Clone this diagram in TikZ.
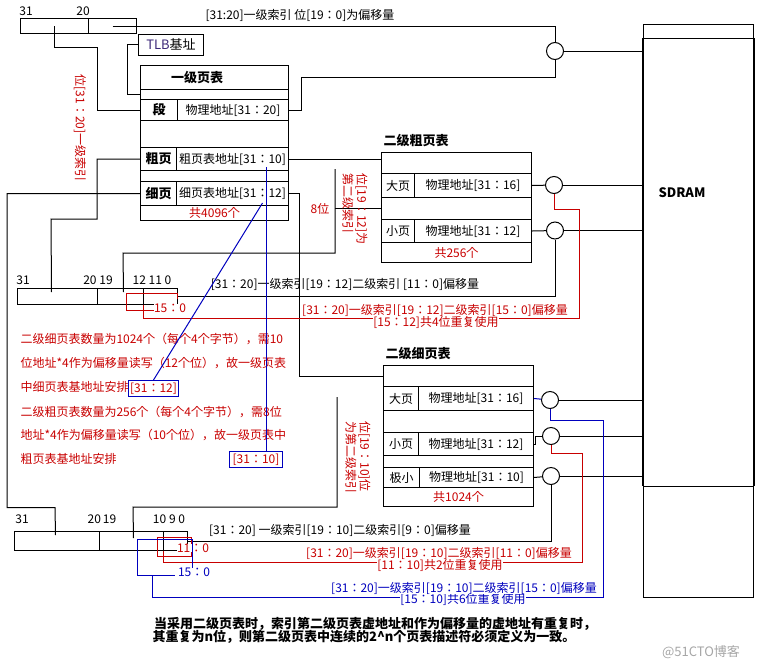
\documentclass[tikz,border=0pt]{standalone}
\usepackage{fontspec}
\setmainfont{Noto Sans CJK JP}
\usetikzlibrary{calc}
\definecolor{idxred}{RGB}{200,0,0}
\definecolor{idxblue}{RGB}{0,0,190}
\definecolor{tlbcol}{RGB}{60,40,120}

\begin{document}
\begin{tikzpicture}[x=1pt,y=-1pt,line width=1pt,
        font=\fontsize{12}{14}\selectfont,
        cell/.style={draw,inner sep=0pt,anchor=north west},
        tap/.style={draw,circle,minimum size=17pt,inner sep=0pt},
        hd/.style={font=\fontsize{13}{15}\selectfont\bfseries},
        rtxt/.style={text=idxred,fill=white,inner sep=0pt},
        btxt/.style={text=idxblue,fill=white,inner sep=0pt},
        memo/.style={text=idxred,anchor=west,inner sep=0pt},
        idxbox/.style={draw=idxblue,text=idxred,inner sep=1pt,minimum height=16pt,anchor=north west}]
            \useasboundingbox (0,0) rectangle (760,670);

            \node[cell,minimum width=68pt,minimum height=15pt] (a1hi) at (20, 18) {};
            \node[cell,minimum width=48pt,minimum height=15pt] (a1lo) at (88, 18) {};
            \node (a1n31) at (26, 11) { 31 };
            \node (a1n20) at (83, 11) { 20 };
            \node (a1txt) at (300, 15) { [31:20]一级索引 位[19：0]为偏移量 };

            \node[draw,minimum width=65pt,minimum height=21pt,inner sep=0pt,font=\fontsize{13}{15}\selectfont] (tlb) at (171, 44.5) { \textcolor{tlbcol}{TLB}基址 };

            \node[cell,minimum width=148pt,minimum height=24pt] (t1top) at (140, 65) {};
            \node[hd] (t1name) at (197, 78) { 一级页表 };
            \node[cell,minimum width=148pt,minimum height=10pt] (t1gapa) at (140, 89) {};
            \node[cell,hd,minimum width=37pt,minimum height=21pt] (seg) at (140, 99) { 段 };
            \node[cell,minimum width=111pt,minimum height=21pt] (segpa) at (177, 99) { 物理地址[31：20] };
            \node[cell,minimum width=148pt,minimum height=27pt] (t1gapb) at (140, 120) {};
            \node[cell,hd,minimum width=36pt,minimum height=23pt] (cu) at (140, 147) { 粗页 };
            \node[cell,minimum width=112pt,minimum height=23pt] (cupa) at (176, 147) { 粗页表地址[31：10] };
            \node[cell,minimum width=148pt,minimum height=11pt] (t1gapc) at (140, 170) {};
            \node[cell,hd,minimum width=36pt,minimum height=24pt] (xi) at (140, 181) { 细页 };
            \node[cell,minimum width=112pt,minimum height=24pt] (xipa) at (176, 181) { 细页表地址[31：12] };
            \node[cell,text=idxred,minimum width=148pt,minimum height=15pt] (t1sum) at (140, 205) { 共4096个 };

            \node[hd,anchor=west,inner sep=0pt] (s1name) at (383, 141) { 二级粗页表 };
            \node[cell,minimum width=150pt,minimum height=21pt] (s1top) at (381, 152) {};
            \node[cell,minimum width=33pt,minimum height=24pt] (s1bigk) at (381, 173) { 大页 };
            \node[cell,minimum width=117pt,minimum height=24pt] (s1big) at (414, 173) { 物理地址[31：16] };
            \node[cell,minimum width=150pt,minimum height=22pt] (s1gap) at (381, 197) {};
            \node[cell,minimum width=33pt,minimum height=23pt] (s1smk) at (381, 219) { 小页 };
            \node[cell,minimum width=117pt,minimum height=23pt] (s1sm) at (414, 219) { 物理地址[31：12] };
            \node[cell,text=idxred,minimum width=150pt,minimum height=20pt] (s1sum) at (381, 242) { 共256个 };

            \node[hd,anchor=west,inner sep=0pt] (t2name) at (385, 354) { 二级细页表 };
            \node[cell,minimum width=150pt,minimum height=21pt] (t2top) at (383, 365) {};
            \node[cell,minimum width=35pt,minimum height=24pt] (t2bigk) at (383, 386) { 大页 };
            \node[cell,minimum width=115pt,minimum height=24pt] (t2big) at (418, 386) { 物理地址[31：16] };
            \node[cell,minimum width=150pt,minimum height=22pt] (t2gapa) at (383, 410) {};
            \node[cell,minimum width=35pt,minimum height=23pt] (t2smk) at (383, 432) { 小页 };
            \node[cell,minimum width=115pt,minimum height=23pt] (t2sm) at (418, 432) { 物理地址[31：12] };
            \node[cell,minimum width=150pt,minimum height=12pt] (t2gapb) at (383, 455) {};
            \node[cell,minimum width=36pt,minimum height=20pt] (t2tyk) at (383, 467) { 极小 };
            \node[cell,minimum width=114pt,minimum height=20pt] (t2ty) at (419, 467) { 物理地址[31：10] };
            \node[cell,text=idxred,minimum width=150pt,minimum height=19pt] (t2sum) at (383, 487) { 共1024个 };

            \node[cell,minimum width=110pt,minimum height=573pt] (sdram) at (643, 24) {};
            \draw ($(sdram.north west)+(0,14)$) -- ($(sdram.north east)+(0,14)$);
            \draw ($(sdram.south west)+(0,-112)$) -- ($(sdram.south east)+(0,-112)$);
            \draw[line width=2pt] ($(sdram.north west)+(0,14)$) -- ($(sdram.south west)+(0,-112)$);
            \draw[line width=2pt] ($(sdram.north east)+(0,14)$) -- ($(sdram.south east)+(0,-112)$);
            \node[font=\fontsize{13}{15}\selectfont\bfseries] (sdramtxt) at (682, 193) { SDRAM };

            \node[tap] (j0) at (555, 51) {};
            \node[tap] (s1j1) at (554, 185) {};
            \node[tap] (s1j2) at (555, 230.5) {};
            \node[tap] (t2j1) at (550, 400) {};
            \node[tap] (t2j2) at (551, 436) {};
            \node[tap] (t2j3) at (551, 476) {};

            \node[cell,minimum width=80pt,minimum height=16pt] (b2hi) at (17, 288) {};
            \node[cell,minimum width=46pt,minimum height=16pt] (b2mid) at (97, 288) {};
            \node[cell,minimum width=34pt,minimum height=16pt] (b2lo) at (143, 288) {};
            \node (b2n31) at (23, 280) { 31 };
            \node (b2n20) at (98, 280) { 20 19 };
            \node (b2n12) at (152, 280) { 12 11 0 };
            \node (b2txt) at (345, 284) { [31：20]一级索引[19：12]二级索引 [11：0]偏移量 };

            \node[cell,minimum width=85pt,minimum height=19pt] (b3hi) at (14, 531) {};
            \node[cell,minimum width=64pt,minimum height=19pt] (b3mid) at (99, 531) {};
            \node[cell,minimum width=24pt,minimum height=19pt] (b3lo) at (163, 531) {};
            \node (b3n31) at (22, 519) { 31 };
            \node (b3n20) at (102, 519) { 20\,19 };
            \node (b3n10) at (169, 519) { 10 9 0 };
            \node (b3txt) at (340, 530) { [31：20] 一级索引[19：10]二级索引[9：0]偏移量 };

            \coordinate (s1idx) at (335, 169);
            \coordinate (t2idx) at (337, 397);
            \coordinate (bb3) at (152, 575);

            \draw (a1lo.center) -| (j0);
            \draw (a1hi.center) |- ++(43,21) |- (seg.west);
            \draw (tlb.west) -- ++(-11,0) |- (t1gapa.west);
            \draw (segpa.east) -- ++(12,0) |- ($(j0.south)+(0,17)$) -- (j0.south);
            \draw (cupa.east) -- (cupa.east -| s1top.west);
            \draw (cu.west) -- ++(-43,0) |- ++(-46,60) -- ($(b2hi.north)+(-6,4)$);
            \draw (xi.west) -- ++(-133,0) |- ++(48,314) -- ($(b3hi.north)+(-1.5,4)$);
            \draw (xipa.east) -- ++(10,0) |- (t2top.west);
            \draw (s1gap.west) -- (s1gap.west -| s1idx);
            \draw (s1idx) |- ++(-212,84) -- ($(b2mid.north)+(3,4)$);
            \draw (t2idx) |- ++(-204,110) -- ($(b3mid.north)+(2,7)$);

            \draw (s1big.east) -- (s1j1);
            \draw (s1sm.east) -- (s1j2);
            \draw[idxblue] (t2big.east) -- (t2j1);
            \draw (t2sm.east) -- ++(1,0) |- (t2j2);
            \draw (t2ty.east) -- (t2j3);
            \foreach \j in {j0,s1j1,s1j2,t2j1,t2j2,t2j3}
                \draw (\j) -- (\j -| sdram.west);
            \draw (s1j2.south) |- (b2lo.east);
            \draw (t2j3.south) |- (b3lo.east);

            \draw[idxred] (b2lo.south west) -- ++(0,13) -| ++(436,-109) -| (s1j1.south);
            \draw[idxred] (177, 299) |- (126, 293) |- (155, 310);
            \node[rtxt] (b2off) at (170, 308) { 15：0 };

            \draw[idxred] (t2j2.south) -- ++(0,8.5) -| ++(31,109) -| (b3lo.south west);
            \draw[idxred] (157, 537) rectangle (191, 556);
            \node[rtxt] (b3off1) at (193, 548) { 11：0 };
            \draw[idxblue] (t2j1.south) -- ++(0,11.5) -| ++(53,177) -| (bb3);
            \draw[idxblue] (192, 570) |- (137, 539) |- (175, 575);
            \node[btxt] (b3off2) at (194, 572) { 15：0 };

            \node[rtxt] (r2b) at (436, 322) { [15：12]共4位重复使用 };
            \node[rtxt] (r2a) at (435, 310) { [31：20]一级索引[19：12]二级索引[15：0]偏移量 };
            \node[rtxt] (r3b) at (440, 565) { [11：10]共2位重复使用 };
            \node[rtxt] (r3a) at (439, 553) { [31：20]一级索引[19：10]二级索引[11：0]偏移量 };
            \node[btxt] (u3b) at (463, 599) { [15：10]共6位重复使用 };
            \node[btxt] (u3a) at (464, 588) { [31：20]一级索引[19：10]二级索引[15：0]偏移量 };

            \node[memo] (memo1) at (20, 339) { 二级细页表数量为1024个（每个4个字节），需10 };
            \node[memo] (memo2) at (20, 363) { 位地址*4作为偏移量读写（12个位），故一级页表 };
            \node[memo] (memo3) at (20, 387) { 中细页表基地址安排 };
            \node[idxbox,minimum width=50pt] (bx12) at (128, 380) { [31：12] };
            \node[memo] (memo4) at (20, 412) { 二级粗页表数量为256个（每个4个字节），需8位 };
            \node[memo] (memo5) at (20, 435) { 地址*4作为偏移量读写（10个位），故一级页表中 };
            \node[memo] (memo6) at (20, 459) { 粗页表基地址安排 };
            \node[idxbox,minimum width=53pt] (bx10) at (229, 451) { [31：10] };
            \draw[idxblue] (bx12.north) -- ($(xipa.south)+(30,-3)$);
            \draw[idxblue] ($(bx10.north)+(10,0)$) -- ($(bx10.north)+(10,-284)$);

            \node[text=idxred,rotate=-90] (v1) at (80, 128) { 位[31：20]一级索引 };
            \node[text=idxred] (v2) at (320, 209) { 8位 };
            \node[text=idxred,rotate=-90,align=left] (v3) at (355, 209) { 位[19：12]为\\第二级索引 };
            \node[text=idxred,rotate=-90,align=left] (v4) at (358, 457) { 位[19：10]位\\为第二级索引 };

            \node[font=\fontsize{13}{13}\selectfont\bfseries] (foot1) at (375, 624) { 当采用二级页表时，索引第二级页表虚地址和作为偏移量的虚地址有重复时， };
            \node[font=\fontsize{13}{13}\selectfont\bfseries] (foot2) at (364, 637) { 其重复为n位，则第二级页表中连续的2\textasciicircum n个页表描述符必须定义为一致。 };
            \node[text=black!35,font=\fontsize{13}{15}\selectfont] (wm) at (701, 652) { @51CTO博客 };

        \end{tikzpicture}
\end{document}
